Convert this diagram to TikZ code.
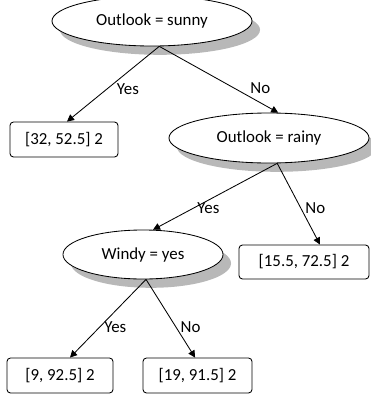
\documentclass[tikz,border=0pt]{standalone}
\usepackage{fontspec}
\setmainfont{Carlito}
\usetikzlibrary{shapes.geometric,shadows,arrows.meta}
\tikzset{
  test/.style={ellipse,draw,line width=0.6pt,fill=white,inner sep=0pt,
    minimum height=1.25cm,font=\fontsize{12}{14}\selectfont,
    drop shadow={shadow xshift=0.2cm,shadow yshift=-0.22cm,fill=black!28,opacity=1}},
  leaf/.style={rectangle,draw,line width=0.6pt,rounded corners=2.5pt,fill=white,
    minimum height=0.875cm,font=\fontsize{12}{14}\selectfont},
  arr/.style={-{Triangle[length=5pt,width=5pt]},line width=0.6pt},
  lbl/.style={font=\fontsize{12}{14}\selectfont,inner sep=1pt}
}

\begin{document}
\begin{tikzpicture}[x=0.025cm,y=-0.025cm]
    \useasboundingbox (0,0) rectangle (370,396);
    % tests
    \node[test,minimum width=5cm] (sunny) at (152,21) {Outlook = sunny};
    \node[test,minimum width=5cm] (rainy) at (269,138) {Outlook = rainy};
    \node[test,minimum width=4cm,minimum height=1.225cm] (windy) at (143,254.5) {Windy = yes};
    % leaves
    \node[leaf,minimum width=2.7cm] (leafa) at (64,139.5) {[32, 52.5] 2};
    \node[leaf,minimum width=3.25cm,minimum height=0.85cm] (leafb) at (304,262) {[15.5, 72.5] 2};
    \node[leaf,minimum width=2.65cm] (leafc) at (60,375.5) {[9, 92.5] 2};
    \node[leaf,minimum width=2.725cm] (leafd) at (197.5,375.5) {[19, 91.5] 2};
    % branches
    \draw[arr] (sunny.-74) -- node[lbl,pos=0.57,right=6pt] (ya) {Yes} ([xshift=0.075cm]leafa.north);
    \draw[arr] (sunny.-74) -- node[lbl,pos=0.85,above=5pt] (na) {No} (rainy.70);
    \draw[arr] (rainy.-72) -- node[lbl,pos=0.68,right=2pt] (yb) {Yes} (windy.68);
    \draw[arr] (rainy.-72) -- node[lbl,pos=0.55,right=2pt] (nb) {No} ([xshift=0.4cm]leafb.north);
    \draw[arr] (windy.-83) -- node[lbl,pos=0.61,right=2pt] (yc) {Yes} ([xshift=0.25cm]leafc.north);
    \draw[arr] (windy.-83) -- node[lbl,pos=0.61,right=2pt] (nc) {No} ([xshift=-0.06cm]leafd.north);
\end{tikzpicture}
\end{document}
